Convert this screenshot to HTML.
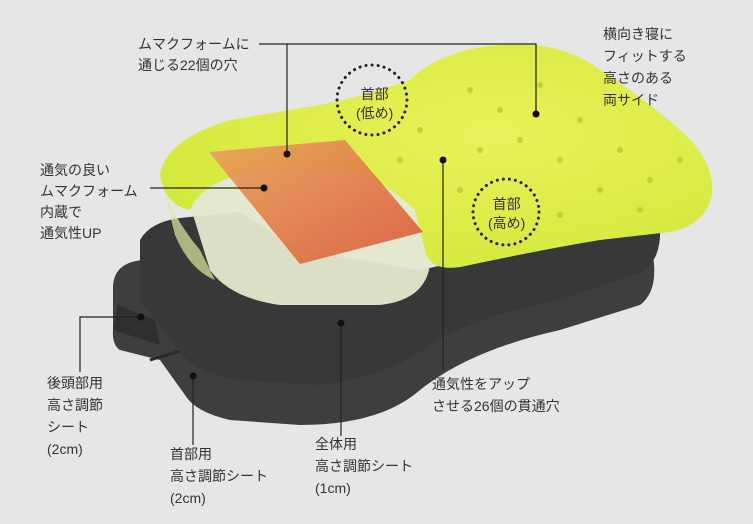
<!DOCTYPE html>
<html><head><meta charset="utf-8"><style>
html,body{margin:0;padding:0;background:#e6e6e6;}
.w{position:relative;width:753px;height:524px;overflow:hidden;background:#e6e6e6;font-family:"Liberation Sans","Noto Sans CJK JP",sans-serif;color:#333;}
.t{position:absolute;font-size:14px;line-height:22px;white-space:nowrap;}
svg{position:absolute;left:0;top:0;}
</style></head><body><div class="w">
<svg width="753" height="524" viewBox="0 0 753 524">
<defs>
<linearGradient id="og" x1="0" y1="0" x2="1" y2="1"><stop offset="0" stop-color="#e8a35a"/><stop offset="1" stop-color="#dc5a3a"/></linearGradient>
<radialGradient id="gg" cx="0.6" cy="0.4" r="0.7"><stop offset="0" stop-color="#e9f25a"/><stop offset="1" stop-color="#d2e83a"/></radialGradient>
</defs>
<!-- lower dark sheet -->
<path d="M113 290 Q112 268 132 262 L185 250 L330 300 L460 300 L600 262 L652 250 Q660 290 640 305 L560 330 Q470 350 420 390 Q380 425 300 425 L230 420 Q195 412 185 395 L160 360 L120 350 Q112 345 113 330 Z" fill="#3e3e3e"/>
<path d="M113 330 L160 345 L155 320 L118 305 Z" fill="#2f2f2f"/>
<path d="M150 360 L200 345" stroke="#2a2a2a" stroke-width="3"/>
<!-- upper dark sheet -->
<path d="M140 240 Q150 222 180 218 L240 212 L300 250 L420 270 L560 240 L640 205 L660 225 Q662 262 640 272 L560 300 Q470 318 430 345 Q390 375 320 385 L240 380 Q190 372 175 345 L140 300 Z" fill="#383838"/>
<!-- white foam -->
<path d="M190 205 Q200 185 240 180 L360 170 Q410 180 425 220 L430 265 Q425 300 380 305 L280 305 Q230 298 210 270 Z" fill="#e4e8cc" opacity="0.95"/>
<!-- green top -->
<path d="M160 175 Q165 140 230 120 L320 105 Q370 95 410 80 Q440 50 500 45 Q560 40 600 70 Q640 95 680 130 Q715 160 712 195 Q705 225 670 232 L600 240 Q540 250 470 265 Q430 275 425 250 L415 210 Q380 175 330 168 L240 175 Q200 185 190 210 Q165 205 160 175 Z" fill="url(#gg)"/>
<path d="M160 175 Q170 215 200 250 L215 280 Q190 270 175 235 Z" fill="#dfe9a0" opacity="0.7"/>
<g fill="#b9cc2a" opacity="0.8">
<circle cx="470" cy="90" r="3"/><circle cx="500" cy="110" r="3"/><circle cx="540" cy="85" r="3"/><circle cx="580" cy="120" r="3"/><circle cx="620" cy="150" r="3"/><circle cx="650" cy="180" r="3"/><circle cx="600" cy="190" r="3"/><circle cx="560" cy="160" r="3"/><circle cx="520" cy="140" r="3"/><circle cx="480" cy="150" r="3"/><circle cx="420" cy="130" r="3"/><circle cx="460" cy="190" r="3"/><circle cx="560" cy="215" r="3"/><circle cx="640" cy="210" r="3"/><circle cx="680" cy="160" r="3"/><circle cx="400" cy="160" r="3"/>
</g>
<!-- orange pad -->
<path d="M209 152 L345 140 L423 232 L300 264 Z" fill="url(#og)" opacity="0.92"/>
<!-- dotted circles -->
<circle cx="372" cy="100" r="35" fill="none" stroke="#222" stroke-width="3" stroke-dasharray="0.1 6" stroke-linecap="round"/>
<circle cx="506" cy="212" r="33" fill="none" stroke="#222" stroke-width="3" stroke-dasharray="0.1 6" stroke-linecap="round"/>
<!-- leader lines -->
<g stroke="#222" stroke-width="1.2" fill="none">
<path d="M259 44 L536 44 L536 113"/><path d="M287 44 L287 152"/>
<path d="M150 188 L264 188"/>
<path d="M443 160 L443 370"/>
<path d="M141 317 L80 317 L80 372"/>
<path d="M193 376 L193 445"/>
<path d="M341 323 L341 436"/>
</g>
<g fill="#111"><circle cx="287" cy="154" r="3.5"/><circle cx="536" cy="114" r="3.5"/><circle cx="264" cy="188" r="3.5"/><circle cx="443" cy="160" r="3.5"/><circle cx="141" cy="317" r="3.5"/><circle cx="193" cy="376" r="3.5"/><circle cx="341" cy="323" r="3.5"/></g>
</svg>
<div class="t" style="left:138px;top:34px;line-height:21px">ムマクフォームに<br>通じる22個の穴</div>
<div class="t" style="left:603px;top:23px">横向き寝に<br>フィットする<br>高さのある<br>両サイド</div>
<div class="t" style="left:356px;top:85px;line-height:19px;text-align:center">首部<br>(低め)</div>
<div class="t" style="left:488px;top:195px;line-height:19px;text-align:center">首部<br>(高め)</div>
<div class="t" style="left:40px;top:160px;line-height:21px">通気の良い<br>ムマクフォーム<br>内蔵で<br>通気性UP</div>
<div class="t" style="left:47px;top:372px;line-height:22px">後頭部用<br>高さ調節<br>シート<br>(2cm)</div>
<div class="t" style="left:170px;top:443px;line-height:22px">首部用<br>高さ調節シート<br>(2cm)</div>
<div class="t" style="left:315px;top:433px;line-height:22px">全体用<br>高さ調節シート<br>(1cm)</div>
<div class="t" style="left:432px;top:373px;line-height:22px">通気性をアップ<br>させる26個の貫通穴</div>
</div></body></html>
